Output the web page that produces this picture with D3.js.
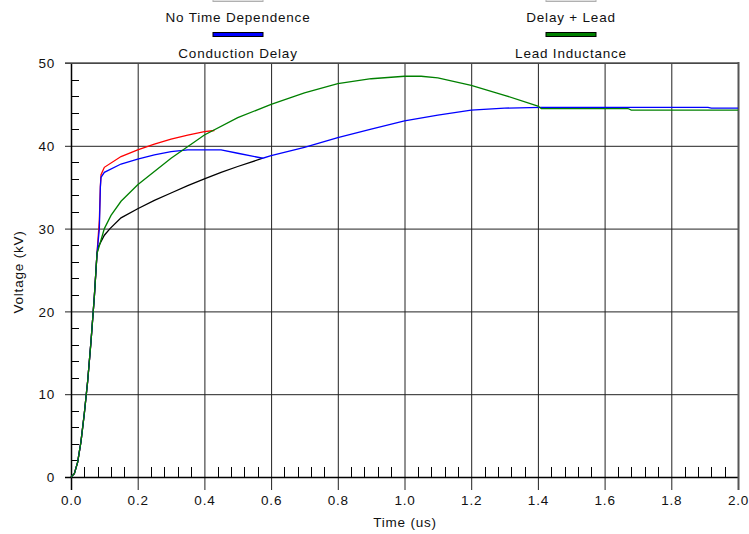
<!DOCTYPE html>
<html><head><meta charset="utf-8">
<script src="https://cdn.jsdelivr.net/npm/d3@7"></script>
<style>
html,body{margin:0;padding:0;background:#fff;}
svg text{font-family:"Liberation Sans",Arial,sans-serif;font-size:13.5px;fill:#111;letter-spacing:0.8px;}
</style></head><body>
<svg id="c" width="749" height="534"></svg>
<script>
// ---- data ----
const seriesNames = ["No Time Dependence","Delay + Lead","Conduction Delay","Lead Inductance"];
const xTicks = [0.0,0.2,0.4,0.6,0.8,1.0,1.2,1.4,1.6,1.8,2.0];
const yTicks = [0,10,20,30,40,50];
const riseT = [0,0.01,0.02,0.03,0.04,0.05,0.06,0.07,0.078];
const riseV = [0,0.4,1.8,4.3,7.7,11.6,16.4,21.8,27];
// No Time Dependence (black)
const blackT = [0.078,0.082,0.1,0.117,0.15,0.2,0.25,0.3,0.35,0.4,0.45,0.5,0.575];
const blackV = [27,27.8,29.2,30.0,31.3,32.4,33.4,34.3,35.2,36.0,36.8,37.5,38.5];
// Delay + Lead (red)
const redT = [0.078,0.085,0.088,0.09,0.1,0.15,0.2,0.25,0.3,0.35,0.4,0.43];
const redV = [27,31,35,36.5,37.4,38.7,39.5,40.2,40.8,41.3,41.7,41.85];
// Conduction Delay (blue)
const blueT = [0.078,0.085,0.088,0.09,0.1,0.15,0.2,0.25,0.3,0.35,0.45,0.5,0.575,0.6,0.7,0.8,0.9,1.0,1.1,1.2,1.3,1.41,1.91,1.92,2.0];
const blueV = [27,30,35,36.2,36.8,37.8,38.4,38.9,39.3,39.5,39.5,39.1,38.5,38.8,39.8,41.0,42.0,43.0,43.7,44.3,44.55,44.65,44.65,44.55,44.55];
// Lead Inductance (green)
const greenT = [0.078,0.087,0.1,0.12,0.15,0.2,0.3,0.4,0.5,0.6,0.7,0.8,0.9,1.0,1.05,1.1,1.2,1.3,1.4,1.41,1.67,1.68,2.0];
const greenV = [27,28.2,30.0,31.6,33.3,35.3,38.5,41.3,43.4,45.0,46.4,47.5,48.1,48.4,48.4,48.2,47.3,46.1,44.8,44.5,44.5,44.3,44.3];
const colors = {black:"#000000", red:"#ff0000", blue:"#0000ff", green:"#008000"};

// ---- chart ----
const svg = d3.select("#c");
const x = d3.scaleLinear().domain([0,2]).range([71,738]);
const y = d3.scaleLinear().domain([0,50]).range([477,63]);

const g = svg.append("g");
// minor ticks
const xMinor = d3.range(0,2.0001,0.04).filter(v=>Math.abs(v/0.2-Math.round(v/0.2))>1e-6);
g.selectAll(".xm").data(xMinor).enter().append("line")
 .attr("x1",d=>Math.round(x(d))+0.5).attr("x2",d=>Math.round(x(d))+0.5)
 .attr("y1",477).attr("y2",467).attr("stroke","#000").attr("stroke-width",1);
const yMinor = d3.range(0,50.001,2).filter(v=>v%10!==0);
g.selectAll(".ym").data(yMinor).enter().append("line")
 .attr("y1",d=>Math.round(y(d))+0.5).attr("y2",d=>Math.round(y(d))+0.5)
 .attr("x1",71).attr("x2",79).attr("stroke","#000").attr("stroke-width",1);

// gridlines (axis with long ticks)
const xAxis = d3.axisBottom(x).tickValues(xTicks).tickFormat(d3.format(".1f"))
  .tickSizeInner(-(477-63)).tickSizeOuter(0).tickPadding(0);
const gx = g.append("g").attr("transform","translate(0,477)").call(xAxis);
gx.select(".domain").remove();
gx.selectAll(".tick line").attr("y2",-(477-63)).attr("y1",13).attr("stroke","#222");
gx.selectAll(".tick text").attr("y",28).attr("dy",0).style("font-size","13.5px");

const yAxis = d3.axisLeft(y).tickValues(yTicks).tickFormat(d3.format("d"))
  .tickSizeInner(-(738-71)).tickSizeOuter(0);
const gy = g.append("g").attr("transform","translate(71,0)").call(yAxis);
gy.select(".domain").remove();
gy.selectAll(".tick line").attr("x1",-6).attr("x2",738-71).attr("stroke","#222");
gy.selectAll(".tick text").attr("x",-16).attr("dy","0.35em").style("font-size","13.5px");

// axes lines
g.append("line").attr("x1",71.5).attr("x2",71.5).attr("y1",63).attr("y2",490).attr("stroke","#000").attr("stroke-width",1.5);
g.append("line").attr("x1",65).attr("x2",739).attr("y1",477.5).attr("y2",477.5).attr("stroke","#000").attr("stroke-width",1.5);
g.append("line").attr("x1",738.5).attr("x2",738.5).attr("y1",62).attr("y2",490).attr("stroke","#555").attr("stroke-width",2);
g.append("line").attr("x1",65).attr("x2",739).attr("y1",63).attr("y2",63).attr("stroke","#555").attr("stroke-width",1.5);

// lines
const line = d3.line().x(d=>x(d[0])).y(d=>y(d[1]));
function series(T,V,withRise){
  const pts = [];
  if(withRise) riseT.forEach((t,i)=>pts.push([t,riseV[i]]));
  T.forEach((t,i)=>pts.push([t,V[i]]));
  return pts;
}
const lines = [
  {pts:series(redT,redV,true), c:colors.red},
  {pts:series(blackT,blackV,true), c:colors.black},
  {pts:series(blueT,blueV,true), c:colors.blue},
  {pts:series(greenT,greenV,true), c:colors.green}
];
g.selectAll(".ser").data(lines).enter().append("path")
 .attr("d",d=>line(d.pts)).attr("fill","none").attr("stroke",d=>d.c).attr("stroke-width",1.3);

// axis titles
svg.append("text").attr("x",405).attr("y",527).attr("text-anchor","middle").text("Time (us)");
svg.append("text").attr("transform","translate(23,272) rotate(-90)").attr("text-anchor","middle").text("Voltage (kV)");

// legend
const legend = [
  {name:seriesNames[0], cx:238, sy:-3, ty:22, fill:"#e0e0e0", stroke:"#b0b0b0"},
  {name:seriesNames[1], cx:571, sy:-3, ty:22, fill:"#e0e0e0", stroke:"#b0b0b0"},
  {name:seriesNames[2], cx:238, sy:32, ty:58, fill:colors.blue, stroke:"#000"},
  {name:seriesNames[3], cx:571, sy:32, ty:58, fill:colors.green, stroke:"#000"}
];
const lg = svg.append("g").selectAll("g").data(legend).enter().append("g");
lg.append("rect").attr("x",d=>d.cx-25).attr("y",d=>d.sy+0.5).attr("width",50).attr("height",4)
  .attr("fill",d=>d.fill).attr("stroke",d=>d.stroke).attr("stroke-width",1);
lg.append("text").attr("x",d=>d.cx).attr("y",d=>d.ty).attr("text-anchor","middle").text(d=>d.name);
</script>
</body></html>
